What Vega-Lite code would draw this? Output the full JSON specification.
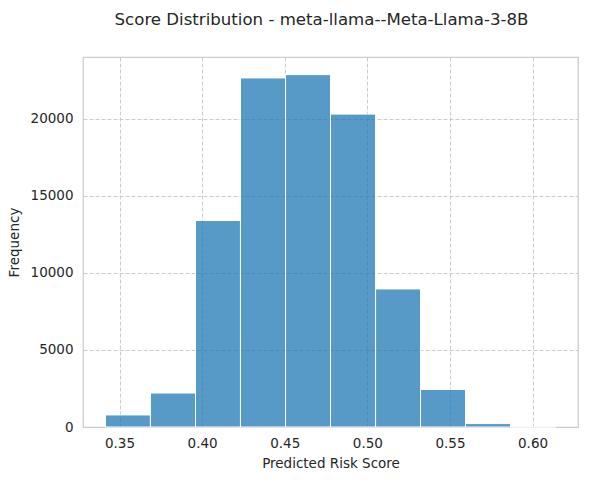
{
  "$schema": "https://vega.github.io/schema/vega-lite/v6.json",
  "width": 495,
  "height": 370,
  "autosize": "none",
  "padding": {"left": 83, "top": 57, "right": 11, "bottom": 53},
  "background": "white",
  "title": {
    "text": "Score Distribution - meta-llama--Meta-Llama-3-8B",
    "font": "DejaVu Sans",
    "fontSize": 16.6,
    "fontWeight": "normal",
    "color": "#262626",
    "anchor": "middle",
    "baseline": "alphabetic",
    "offset": 15,
    "dx": -9
  },
  "config": {
    "view": {"stroke": "#cccccc", "strokeWidth": 1.25},
    "axis": {
      "labelFont": "DejaVu Sans",
      "titleFont": "DejaVu Sans",
      "labelFontSize": 13.5,
      "titleFontSize": 13.5,
      "titleFontWeight": "normal",
      "labelColor": "#262626",
      "titleColor": "#262626",
      "domain": false,
      "ticks": false,
      "gridColor": "#cccccc",
      "gridDash": [4, 2],
      "gridWidth": 1
    }
  },
  "data": {
    "values": [
      {"bin_start": 0.3415, "bin_end": 0.3687, "count": 782},
      {"bin_start": 0.3687, "bin_end": 0.3960, "count": 2204},
      {"bin_start": 0.3960, "bin_end": 0.4232, "count": 13400},
      {"bin_start": 0.4232, "bin_end": 0.4505, "count": 22655},
      {"bin_start": 0.4505, "bin_end": 0.4777, "count": 22871},
      {"bin_start": 0.4777, "bin_end": 0.5050, "count": 20308},
      {"bin_start": 0.5050, "bin_end": 0.5322, "count": 8960},
      {"bin_start": 0.5322, "bin_end": 0.5594, "count": 2439},
      {"bin_start": 0.5594, "bin_end": 0.5867, "count": 222},
      {"bin_start": 0.5867, "bin_end": 0.6139, "count": 5}
    ]
  },
  "mark": {
    "type": "rect",
    "fill": "#1f77b4",
    "fillOpacity": 0.75,
    "stroke": "white",
    "strokeWidth": 1
  },
  "encoding": {
    "x": {
      "field": "bin_start",
      "type": "quantitative",
      "scale": {"domain": [0.3279, 0.6275], "nice": false, "zero": false},
      "axis": {
        "title": "Predicted Risk Score",
        "values": [0.35, 0.4, 0.45, 0.5, 0.55, 0.6],
        "format": ".2f",
        "labelPadding": 9,
        "titlePadding": 7
      }
    },
    "x2": {"field": "bin_end"},
    "y": {
      "field": "count",
      "type": "quantitative",
      "scale": {"domain": [0, 24015], "nice": false},
      "axis": {
        "title": "Frequency",
        "values": [0, 5000, 10000, 15000, 20000],
        "format": "d",
        "labelPadding": 10,
        "titlePadding": 9
      }
    },
    "y2": {"datum": 0}
  }
}
